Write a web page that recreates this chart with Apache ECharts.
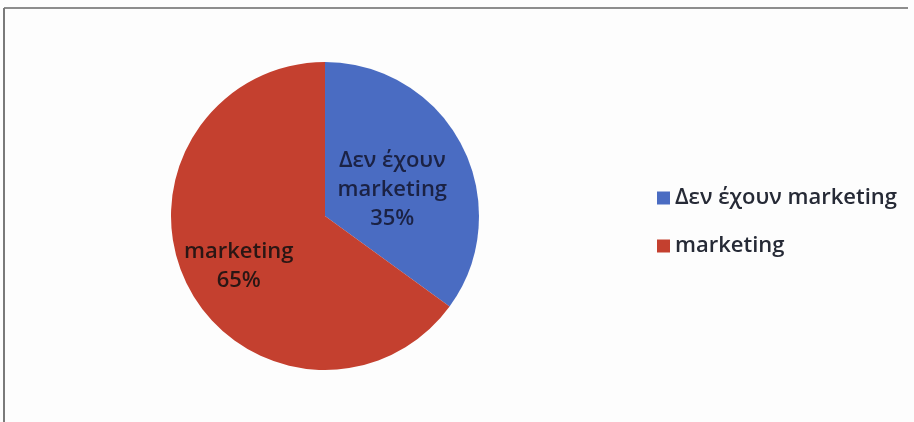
<!DOCTYPE html>
<html>
<head>
<meta charset="utf-8">
<script src="https://cdn.jsdelivr.net/npm/echarts@6/dist/echarts.min.js"></script>
<style>
  html, body { margin: 0; padding: 0; background: #fdfdfd; }
  #chart { width: 914px; height: 422px; }
</style>
</head>
<body>
<div id="chart"></div>
<script>
// Share of businesses with / without marketing
const categories = ['Δεν έχουν marketing', 'marketing'];
const shares = [35, 65];
const sliceColors = ['#4a6cc2', '#c4402f'];
const labelColors = ['#1b2244', '#2a1614'];

// Nudge each in-slice label to sit where the block reads best
const labelNudge = [[-4, 10], [-15, 14]];

const chart = echarts.init(document.getElementById('chart'), null, { renderer: 'canvas' });

const font = '"Open Sans", Lato, "DejaVu Sans", sans-serif';

chart.setOption({
  backgroundColor: '#fdfdfd',
  animation: false,
  graphic: [
    { type: 'line', shape: { x1: 4, y1: 8, x2: 908, y2: 8 }, style: { stroke: '#8d8d8d', lineWidth: 2 } },
    { type: 'line', shape: { x1: 4, y1: 8, x2: 4, y2: 422 }, style: { stroke: '#7a7a7a', lineWidth: 2 } }
  ],
  legend: {
    orient: 'vertical',
    left: 652,
    top: 182,
    itemWidth: 13,
    itemHeight: 13,
    itemGap: 26,
    icon: 'rect',
    data: categories,
    textStyle: {
      fontFamily: font,
      fontSize: 22,
      fontWeight: 600,
      lineHeight: 22,
      color: '#262a36',
      padding: [0, 0, 0, 0]
    }
  },
  series: [{
    type: 'pie',
    center: [325, 216],
    radius: 154,
    startAngle: 90,
    clockwise: true,
    silent: true,
    label: {
      show: true,
      position: 'inside',
      formatter: function (p) {
        return p.name.replace(' marketing', '\nmarketing') + '\n' + p.value + '%';
      },
      fontFamily: font,
      fontSize: 22,
      fontWeight: 600,
      lineHeight: 29,
      align: 'center'
    },
    labelLine: { show: false },
    labelLayout: function (params) {
      const n = labelNudge[params.dataIndex];
      return { dx: n[0], dy: n[1] };
    },
    data: categories.map(function (name, i) {
      return {
        name: name,
        value: shares[i],
        itemStyle: { color: sliceColors[i] },
        label: { color: labelColors[i] }
      };
    })
  }]
});
</script>
</body>
</html>
